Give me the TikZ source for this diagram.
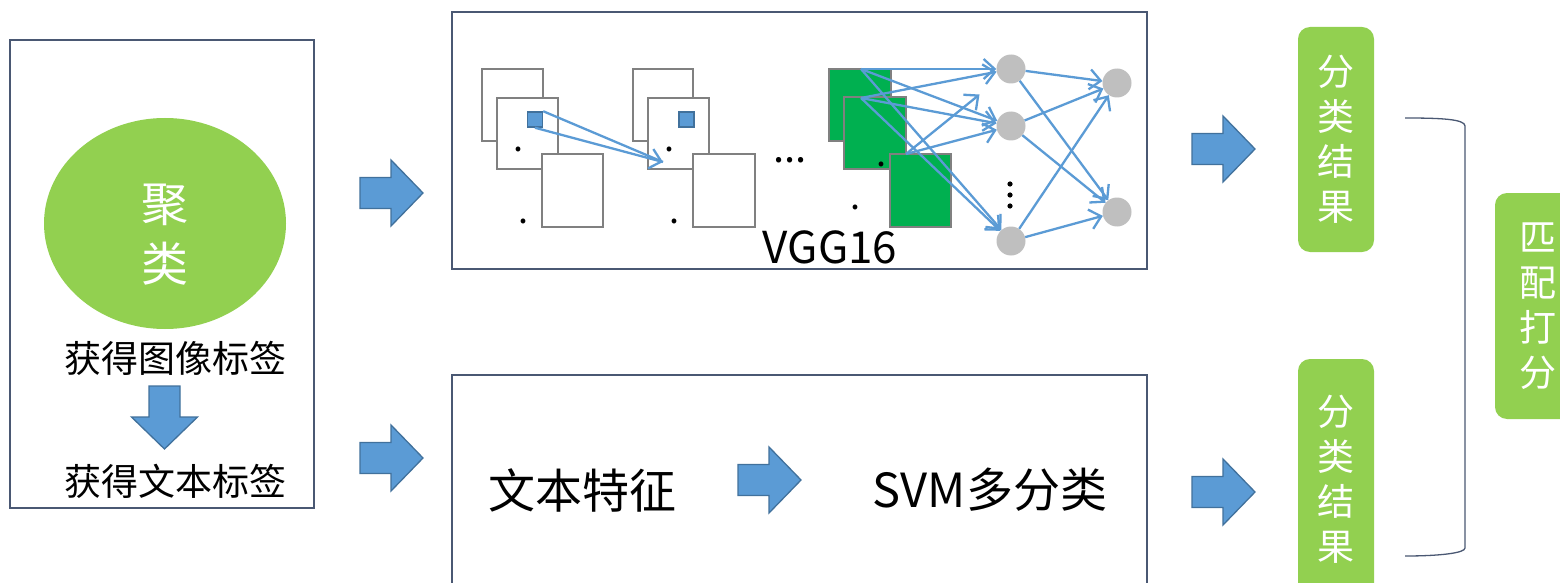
\documentclass[tikz,border=0pt]{standalone}
\usepackage{fontspec}
\setmainfont{Noto Sans CJK SC}
\usetikzlibrary{arrows.meta,calc,shapes.geometric}

\definecolor{leaf}{HTML}{92D050}
\definecolor{slate}{HTML}{4A5873}
\definecolor{arrowblue}{HTML}{5B9BD5}
\definecolor{arrowedge}{HTML}{41719C}
\definecolor{mapgray}{HTML}{808080}
\definecolor{mapgreen}{HTML}{00B050}
\definecolor{neurongray}{HTML}{BFBFBF}

\tikzset{
  frame/.style={draw=slate, line width=2pt},
  fmap/.style={draw=mapgray, line width=2.2pt, fill=white},
  gmap/.style={draw=mapgray, line width=2.2pt, fill=mapgreen},
  bluesq/.style={draw=arrowedge, fill=arrowblue, line width=1.5pt, minimum size=15, inner sep=0},
  neuron/.style={circle, fill=neurongray, minimum size=29, inner sep=0},
  link/.style={draw=arrowblue, line width=2.3pt, -{Straight Barb[length=11pt,width=20pt]}},
  plainlink/.style={draw=arrowblue, line width=2.3pt},
  blockarrow/.style={fill=arrowblue, draw=arrowedge, line width=1.3pt},
  resbox/.style={fill=leaf, rounded corners=12pt, minimum width=76, text=white,
    align=center, inner sep=0, font=\fontsize{37}{45}\selectfont},
  label/.style={inner sep=0, font=\fontsize{37}{45}\selectfont},
  biglabel/.style={inner sep=0, font=\fontsize{47}{55}\selectfont},
  dot/.style={inner sep=0, font=\fontsize{36}{36}\selectfont},
  blockR/.pic={\draw[blockarrow] (0,-15.5) -- (31,-15.5) -- (31,-33) -- (63,0)
      -- (31,33) -- (31,15.5) -- (0,15.5) -- cycle;}
}

\begin{document}
\begin{tikzpicture}[x=1pt,y=-1pt]
\useasboundingbox (0,0) rectangle (1560,583);
\clip (0,0) rectangle (1560,583);
\fill[white] (0,0) rectangle (1560,583);

% ---------- clustering column ----------
\draw[frame] (10,40) rectangle (314,508);
\node[ellipse, fill=leaf, minimum width=242, minimum height=211, inner sep=0] (cluster) at (165,223.5) {};
\node[inner sep=0, text=white, align=center, font=\fontsize{47}{60}\selectfont] (clustertxt) at (165,235) {聚\\类};
\node[label] (imglabel) at (175,358) {获得图像标签};
\pic[rotate=-90] at (164.5,386) {blockR};
\node[label] (txtlabel) at (175,481) {获得文本标签};

% arrows into the two branches
\pic at (360,193) {blockR};
\pic at (360,458) {blockR};

% ---------- VGG16 branch ----------
\draw[frame] (452,12) rectangle (1147,269);

% first block of feature maps
\draw[fmap] (482,69) rectangle (543,141);
\draw[fmap] (497,98) rectangle (558,169);
\draw[fmap] (542,154) rectangle (603,227);
\node[bluesq] (sq1) at (535,119.5) {};
\node[dot] (d1) at (518,149) {.};
\node[dot] (d2) at (523,221) {.};

% second block of feature maps
\draw[fmap] (633,69) rectangle (693,141);
\draw[fmap] (648,98) rectangle (709,169);
\draw[fmap] (693,154) rectangle (755,227);
\node[bluesq] (sq2) at (686.5,119.5) {};
\node[dot] (d3) at (669,149) {.};
\node[dot] (d4) at (674,221) {.};

\coordinate (tip1) at (663,162);
\draw[plainlink] (sq1.north east) -- (tip1);
\draw[link] (sq1.south) -- (tip1);

\node[inner sep=0, font=\fontsize{40}{40}\selectfont] (ellip) at (790,160) {...};

% last convolution maps
\draw[gmap] (829,69) rectangle (891,141);
\draw[gmap] (844,97) rectangle (906,169);
\draw[gmap] (890,154) rectangle (951,227);
\node[dot] (d5) at (881,164) {.};
\node[dot] (d6) at (855,207) {.};

\coordinate (srcA) at (861,69);
\coordinate (srcB) at (861,98);
\coordinate (srcC) at (906,154);

% fully connected layers
\node[neuron] (n1) at (1011,69) {};
\node[neuron] (n2) at (1011,126) {};
\node[neuron] (n3) at (1011,241) {};
\node[neuron] (m1) at (1117,83) {};
\node[neuron] (m2) at (1117,212) {};
\foreach \yy in {184,195,206} \fill (1010,\yy) circle[radius=2.6];

\draw[link] (srcA) -- (n1);
\draw[link] (srcA) -- (n2);
\draw[link] (srcA) -- (n3);
\draw[link] (srcB) -- (n1);
\draw[link] (srcB) -- (n2);
\draw[link] (srcB) -- (n3);
\draw[link] (srcC) -- ($(srcC)!0.7!(n1)$);
\draw[link] (srcC) -- (n2);

\draw[link] (n1) -- (m1);
\draw[link] (n1) -- (m2);
\draw[link] (n2) -- (m1);
\draw[link] (n2) -- (m2);
\draw[link] (n3) -- (m1);
\draw[link] (n3) -- (m2);

\node[inner sep=0, font=\fontsize{44}{44}\selectfont] (vgg) at (830,247) {VGG16};

% ---------- text branch ----------
\draw[frame] (452,375) rectangle (1147,600);
\node[biglabel] (feat) at (582,490) {文本特征};
\pic at (738,480) {blockR};
\node[biglabel] (svm) at (990,490) {SVM多分类};

% ---------- results ----------
\pic at (1192,149) {blockR};
\pic at (1192,492) {blockR};
\node[resbox, minimum height=225] (res1) at (1336,139.5) {分\\类\\结\\果};
\node[resbox, minimum height=240] (res2) at (1336,479) {分\\类\\结\\果};

\draw[slate, line width=1.3pt] (1405,118) .. controls (1440,118) and (1465,119) .. (1465,126)
  -- (1465,548) .. controls (1465,553) and (1440,556) .. (1405,556);

\node[resbox, minimum width=85, minimum height=226] (score) at (1537.5,306) {匹\\配\\打\\分};
\end{tikzpicture}
\end{document}
